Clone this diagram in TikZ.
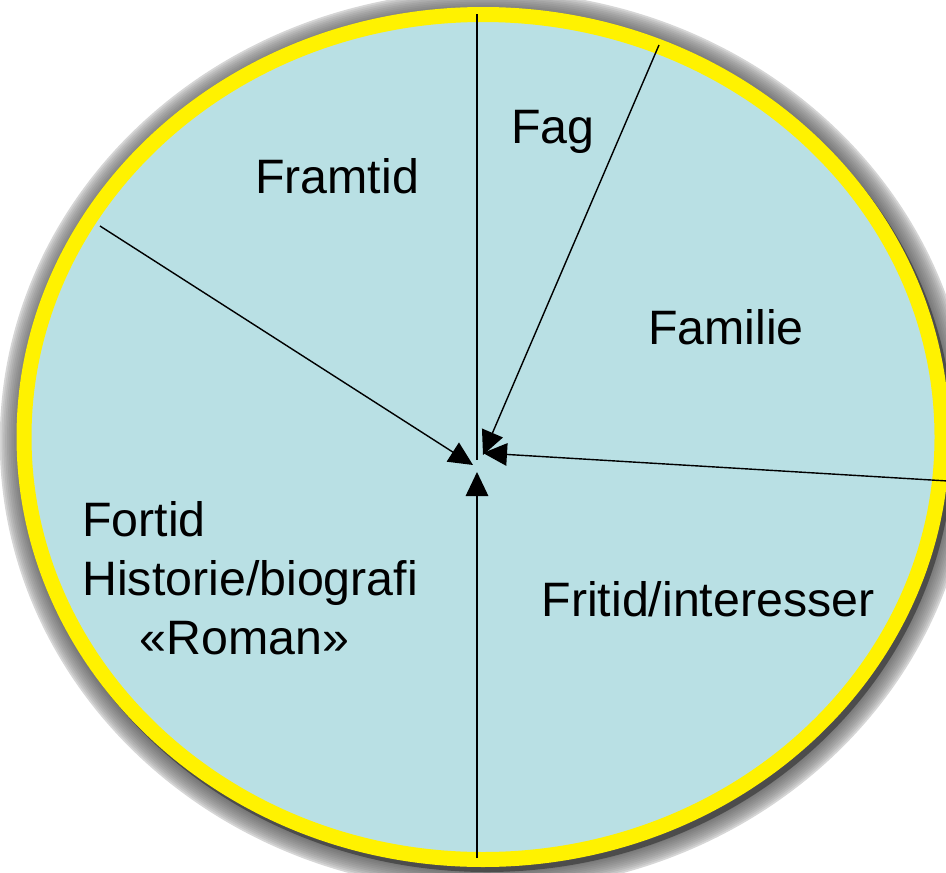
\documentclass[tikz,border=0pt]{standalone}
\usepackage{fontspec}
\setmainfont{Liberation Sans}
\usetikzlibrary{arrows.meta}
\definecolor{paleblue}{RGB}{185,224,228}
\begin{document}
\begin{tikzpicture}[
        x=0.02cm, y=-0.02cm,
        label/.style={font=\fontsize{27.5}{33.5}\selectfont, text=black},
        spoke/.style={line width=0.8pt, black},
        arrow/.style={spoke, -{Triangle[length=0.48cm, width=0.45cm]}}
    ]
        \useasboundingbox (0,0) rectangle (946,872);
        \clip (0,0) rectangle (946,872);

        % Soft glow and dark offset shadow behind the wheel
        \foreach \k [evaluate=\k as \shade using 55*sqrt(\k/12)] in {0,...,12}
            \fill[black!\shade] (486,441) ellipse ({488-1.8*\k} and {452-1.8*\k});
        \fill[black!70] (487,442) ellipse (466.5 and 430);

        % Wheel with yellow rim
        \draw[fill=paleblue, draw=yellow, line width=0.3cm] (483,437) ellipse (459 and 422.5);

        % Hub and rim points
        \coordinate (hub) at (478,462);
        \coordinate (top) at (477,14);
        \coordinate (fagrim) at (659,45);
        \coordinate (leftrim) at (100,226);
        \coordinate (rightrim) at (948,481);
        \coordinate (bottomrim) at (477,858);

        % Spokes
        \draw[spoke] (top) -- (477,460);
        \draw[arrow] (fagrim) -- (483,455);
        \draw[arrow] (leftrim) -- (473,465);
        \draw[arrow] (rightrim) -- (483,453);
        \draw[arrow] (bottomrim) -- (477,472);

        % Sector labels
        \node[label] (framtid) at (337,176) {Framtid};
        \node[label] (fag) at (553,132) {Fag};
        \node[label] (familie) at (726,327) {Familie};
        \node[label] (fritid) at (708,599) {Fritid/interesser};
        \node[label, anchor=north west, align=left, inner sep=0pt] (fortid) at (82,501)
            {Fortid\\Historie/biografi\\\hspace{1.15cm}«Roman»};

    \end{tikzpicture}
\end{document}
